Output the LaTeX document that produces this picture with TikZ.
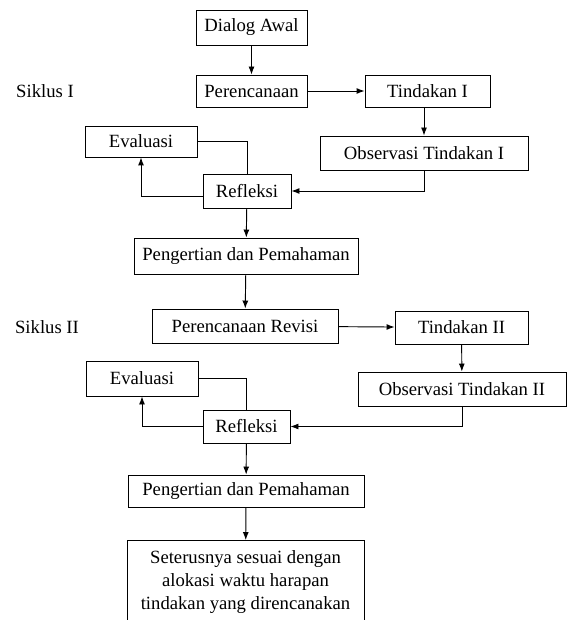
\documentclass[tikz,border=0pt]{standalone}
\usepackage{fontspec}
\setmainfont{Liberation Serif}
\usetikzlibrary{arrows.meta}

\begin{document}
\begin{tikzpicture}[>={Latex[length=6pt,width=4.5pt]}, x=0.75pt, y=-0.75pt,
		kotak/.style={draw, line width=0.7pt, inner sep=0pt, align=center, font=\fontsize{14}{17.3}\selectfont},
		panah/.style={->, line width=0.7pt}]
		\useasboundingbox (0,0) rectangle (571,620);
		\clip (0,0) rectangle (571,620);
		%Siklus I
		\node [font=\fontsize{14}{17.3}\selectfont] (siklus1) at (45,91) {Siklus I};
		\node [kotak, minimum width=83.25pt, minimum height=26.25pt] (dialog) at (251.5,27.5) {Dialog Awal};
		\node [kotak, minimum width=83.25pt, minimum height=24pt] (renc1) at (251.5,91) {Perencanaan};
		\node [kotak, minimum width=93.75pt, minimum height=24pt] (tind1) at (427.5,91) {Tindakan I};
		\node [kotak, minimum width=156pt, minimum height=25.5pt] (obs1) at (424,153) {Observasi Tindakan I};
		\node [kotak, minimum width=84pt, minimum height=23.25pt] (eval1) at (141,141.5) {Evaluasi};
		\node [kotak, minimum width=66pt, minimum height=25.5pt] (refl1) at (247,191) {Refleksi};
		\node [kotak, minimum width=168pt, minimum height=27pt] (pp1) at (246,256) {Pengertian dan Pemahaman};
		%Siklus II
		\node [font=\fontsize{14}{17.3}\selectfont] (siklus2) at (47,327) {Siklus II};
		\node [kotak, minimum width=139.5pt, minimum height=25.5pt] (renc2) at (245,326) {Perencanaan Revisi};
		\node [kotak, minimum width=99.75pt, minimum height=24.75pt] (tind2) at (461.5,327.5) {Tindakan II};
		\node [kotak, minimum width=156pt, minimum height=25.5pt] (obs2) at (462,389) {Observasi Tindakan II};
		\node [kotak, minimum width=84pt, minimum height=26.25pt] (eval2) at (142,378.5) {Evaluasi};
		\node [kotak, minimum width=65.25pt, minimum height=24.75pt] (refl2) at (246.5,426.5) {Refleksi};
		\node [kotak, minimum width=177pt, minimum height=24pt] (pp2) at (246,491) {Pengertian dan Pemahaman};
		\node [kotak, minimum width=177.75pt, minimum height=62.25pt] (akhir) at (245.5,582) {Seterusnya sesuai dengan\\alokasi waktu harapan\\tindakan yang direncanakan};
		%Panah siklus I
		\draw [panah] (dialog) -- (renc1);
		\draw [panah] (renc1) -- (tind1);
		\draw [panah] (tind1.south -| obs1.north) -- (obs1.north);
		\draw [panah] (obs1.south) |- (refl1.east);
		\draw [panah] ([yshift=-4pt]refl1.west) -| (eval1.south);
		\draw [line width=0.7pt] (eval1.east) -| (refl1.north);
		\draw [panah] (refl1) -- (pp1);
		%Panah siklus II
		\draw [panah] (pp1) -- (renc2);
		\draw [panah] (renc2) -- (tind2);
		\draw [panah] (tind2) -- (obs2);
		\draw [panah] (obs2.south) |- (refl2.east);
		\draw [panah] (refl2.west) -| (eval2.south);
		\draw [line width=0.7pt] (eval2.east) -| (refl2.north);
		\draw [panah] (refl2) -- (pp2);
		\draw [panah] (pp2) -- (akhir);
	\end{tikzpicture}
\end{document}
